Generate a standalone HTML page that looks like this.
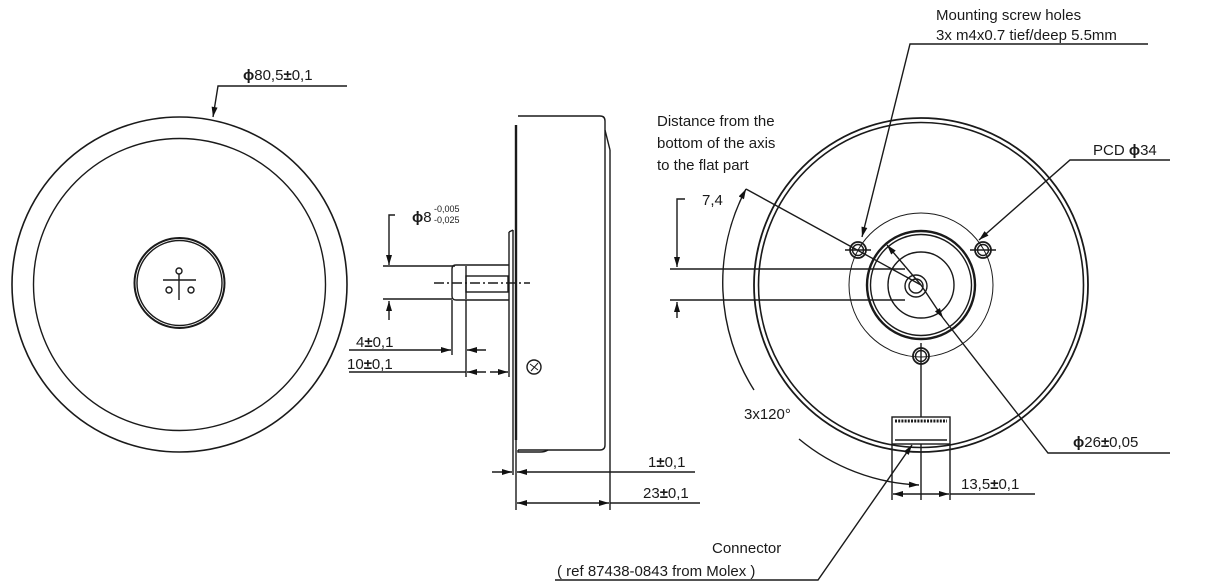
<!DOCTYPE html>
<html><head><meta charset="utf-8"><style>
html,body{margin:0;padding:0;background:#fff}
svg{display:block}
text{font-family:"Liberation Sans",sans-serif;font-size:15px;fill:#1a1a1a}
tspan.b{font-weight:bold}
</style></head><body>
<svg width="1230" height="588" viewBox="0 0 1230 588" xmlns="http://www.w3.org/2000/svg">
<defs>
<marker id="a" viewBox="0 0 10 6" refX="10" refY="3" markerWidth="14" markerHeight="6" markerUnits="userSpaceOnUse" orient="auto-start-reverse"><path d="M0,0 L10,3 L0,6 z" fill="#111"/></marker>
</defs>
<g stroke="#1a1a1a" stroke-width="1.4" fill="none">
<!-- LEFT VIEW -->
<circle cx="179.5" cy="284.5" r="167.5" stroke-width="1.6"/>
<circle cx="179.5" cy="284.5" r="146"/>
<circle cx="179.5" cy="283" r="45" stroke-width="2"/>
<circle cx="179.5" cy="283" r="42.5"/>
<circle cx="179" cy="271" r="3"/>
<line x1="163" y1="280" x2="196" y2="280"/>
<line x1="179" y1="274" x2="179" y2="300"/>
<circle cx="169" cy="290" r="3"/>
<circle cx="191" cy="290" r="3"/>
<polyline points="347,86 218,86 213,117" marker-end="url(#a)"/>

<!-- SIDE VIEW -->
<path d="M518,116 H600 Q605,116 605,121 V445 Q605,450 600,450 H518"/>
<line x1="605" y1="130" x2="610" y2="150"/>
<line x1="610" y1="150" x2="610" y2="420"/>
<line x1="516" y1="125" x2="516" y2="440" stroke-width="2.4"/>
<line x1="513" y1="230" x2="513" y2="475"/>
<line x1="509" y1="232" x2="509" y2="337"/>
<line x1="509" y1="232" x2="513" y2="230"/>
<path d="M518,450 V452 H540 Q545,452 548,450"/>
<path d="M456,265 H509 M456,265 Q452,265 452,269 V296 Q452,300 456,300 H509"/>
<line x1="466" y1="266" x2="466" y2="299"/>
<rect x="466" y="276" width="42" height="16"/>
<line x1="434" y1="283" x2="530" y2="283" stroke-dasharray="10,3,2,3"/>
<circle cx="534" cy="367" r="7"/>
<path d="M530,364 l8,6 M538,363 l-7,8" stroke-width="1"/>
<!-- phi 8 -->
<polyline points="395,215 389,215 389,265" marker-end="url(#a)"/>
<line x1="383" y1="266" x2="455" y2="266"/>
<line x1="383" y1="299" x2="452" y2="299"/>
<line x1="389" y1="320" x2="389" y2="301" marker-end="url(#a)"/>
<!-- 4 & 10 -->
<line x1="452" y1="300" x2="452" y2="355"/>
<line x1="466" y1="300" x2="466" y2="377"/>
<line x1="509" y1="337" x2="509" y2="377"/>
<line x1="349" y1="350" x2="451" y2="350" marker-end="url(#a)"/>
<line x1="486" y1="350" x2="467" y2="350" marker-end="url(#a)"/>
<line x1="349" y1="372" x2="466" y2="372"/>
<line x1="486" y1="372" x2="467" y2="372" marker-end="url(#a)"/>
<line x1="490" y1="372" x2="508" y2="372" marker-end="url(#a)"/>
<!-- 1 & 23 -->
<line x1="516" y1="440" x2="516" y2="510"/>
<line x1="610" y1="420" x2="610" y2="510"/>
<line x1="492" y1="472" x2="512" y2="472" marker-end="url(#a)"/>
<line x1="695" y1="472" x2="517" y2="472" marker-end="url(#a)"/>
<line x1="560" y1="503" x2="517" y2="503" marker-end="url(#a)"/>
<line x1="560" y1="503" x2="609" y2="503" marker-end="url(#a)"/>
<line x1="610" y1="503" x2="700" y2="503"/>

<!-- RIGHT VIEW -->
<circle cx="921" cy="285" r="167" stroke-width="1.8"/>
<circle cx="921" cy="285" r="162.5" stroke-width="1.6"/>
<circle cx="921" cy="285" r="72" stroke-width="1"/>
<circle cx="921" cy="285" r="54" stroke-width="2.4"/>
<circle cx="921" cy="285" r="50.5"/>
<circle cx="921" cy="285" r="33"/>
<circle cx="916" cy="286" r="11"/>
<circle cx="916" cy="286" r="7"/>
<circle cx="858" cy="250" r="8" stroke-width="1.8"/><circle cx="858" cy="250" r="5.5"/>
<circle cx="983" cy="250" r="8" stroke-width="1.8"/><circle cx="983" cy="250" r="5.5"/>
<circle cx="921" cy="356" r="8" stroke-width="1.8"/><circle cx="921" cy="356" r="5.5"/>
<line x1="845" y1="250" x2="871" y2="250"/><line x1="970" y1="250" x2="996" y2="250"/>
<line x1="921" y1="343" x2="921" y2="500"/>
<!-- connector -->
<rect x="892" y="417" width="58" height="27" fill="#fff"/>
<line x1="895" y1="421" x2="947" y2="421" stroke-width="3" stroke-dasharray="2,1.2"/>
<line x1="895" y1="440" x2="947" y2="440"/>
<line x1="892" y1="444" x2="892" y2="500"/>
<line x1="950" y1="444" x2="950" y2="500"/>
<line x1="921" y1="494" x2="893" y2="494" marker-end="url(#a)"/>
<line x1="921" y1="494" x2="949" y2="494" marker-end="url(#a)"/>
<line x1="950" y1="494" x2="1035" y2="494"/>
<!-- 3x120 arcs -->
<path d="M754,390 A200,200 0 0 1 746,189" marker-end="url(#a)"/>
<path d="M799,439 A200,200 0 0 0 919,485" marker-end="url(#a)"/>
<line x1="746" y1="189" x2="921" y2="285"/>
<!-- phi26 -->
<line x1="921" y1="285" x2="887" y2="245" marker-end="url(#a)"/>
<line x1="921" y1="285" x2="943" y2="318" marker-end="url(#a)"/>
<polyline points="943,318 1048,453 1170,453"/>
<!-- leaders -->
<polyline points="1148,44 910,44 862,237" marker-end="url(#a)"/>
<polyline points="1170,160 1070,160 979,240" marker-end="url(#a)"/>
<!-- 7,4 -->
<polyline points="685,199 677,199 677,267" marker-end="url(#a)"/>
<line x1="670" y1="269" x2="905" y2="269"/>
<line x1="670" y1="300" x2="905" y2="300"/>
<line x1="677" y1="318" x2="677" y2="302" marker-end="url(#a)"/>
<!-- connector leader -->
<polyline points="555,580 818,580 912,445" marker-end="url(#a)"/>
</g>
<text x="243" y="80"><tspan class="b">ϕ</tspan>80,5<tspan class="b">±</tspan>0,1</text>
<text x="412" y="222" font-size="16"><tspan class="b">ϕ</tspan>8</text>
<text x="434" y="212" style="font-size:9px">-0,005</text>
<text x="434" y="223" style="font-size:9px">-0,025</text>
<text x="356" y="347">4<tspan class="b">±</tspan>0,1</text>
<text x="347" y="369">10<tspan class="b">±</tspan>0,1</text>
<text x="648" y="467">1<tspan class="b">±</tspan>0,1</text>
<text x="643" y="498">23<tspan class="b">±</tspan>0,1</text>
<text x="936" y="20">Mounting screw holes</text>
<text x="936" y="40">3x m4x0.7 tief/deep 5.5mm</text>
<text x="657" y="126">Distance from the</text>
<text x="657" y="148">bottom of the axis</text>
<text x="657" y="170">to the flat part</text>
<text x="1093" y="155">PCD <tspan class="b">ϕ</tspan>34</text>
<text x="702" y="205">7,4</text>
<text x="744" y="419">3x120°</text>
<text x="1073" y="447"><tspan class="b">ϕ</tspan>26<tspan class="b">±</tspan>0,05</text>
<text x="961" y="489">13,5<tspan class="b">±</tspan>0,1</text>
<text x="712" y="553">Connector</text>
<text x="557" y="576">( ref 87438-0843 from Molex )</text>
</svg>
</body></html>
